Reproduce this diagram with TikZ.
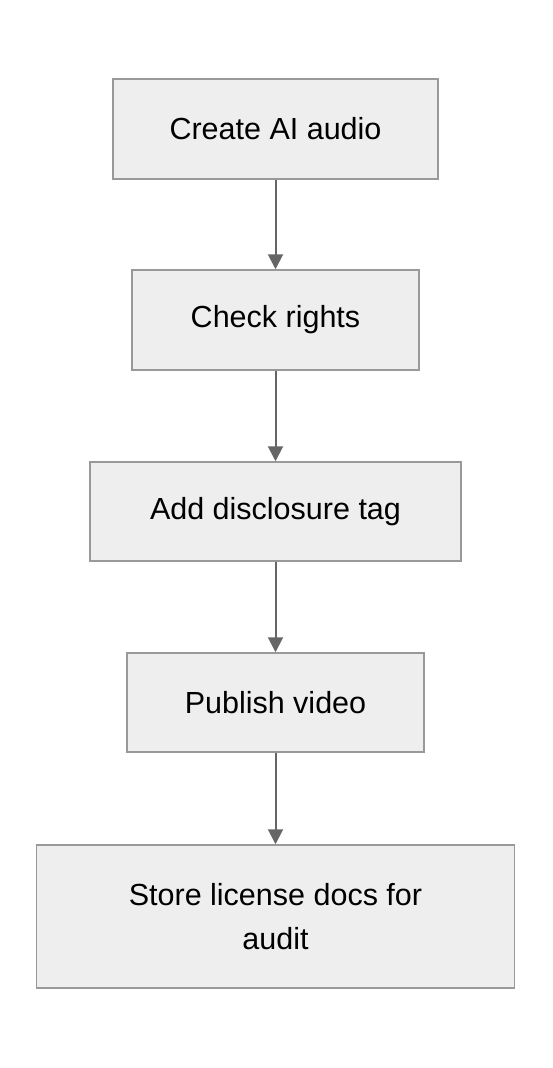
\documentclass[tikz,border=0pt]{standalone}
\usepackage{fontspec}
\setmainfont{Liberation Sans}
\usetikzlibrary{arrows.meta}
\definecolor{boxfill}{HTML}{EEEEEE}
\definecolor{boxline}{HTML}{999999}
\definecolor{arrowc}{HTML}{666666}
\tikzset{
  stepbox/.style={draw=boxline, line width=1.5pt, fill=boxfill, rectangle, inner sep=0pt,
    align=center, font=\fontsize{30.5}{44}\selectfont, text=black},
  flow/.style={draw=arrowc, line width=2pt, -{Triangle[length=15pt,width=15pt]}}
}
\begin{document}
\begin{tikzpicture}[x=1pt,y=-1pt]
\useasboundingbox (0,0) rectangle (552,1068);
\fill[white] (0,0) rectangle (552,1068);
\node[stepbox, minimum width=325pt, minimum height=100pt] (a) at (275.5,129) {Create AI audio};
\node[stepbox, minimum width=287pt, minimum height=100pt] (b) at (275.5,320) {Check rights};
\node[stepbox, minimum width=371pt, minimum height=99pt] (c) at (275.5,511.5) {Add disclosure tag};
\node[stepbox, minimum width=297pt, minimum height=99pt] (d) at (275.5,702.5) {Publish video};
\node[stepbox, minimum width=478pt, minimum height=143pt] (e) at (275.5,916.5) {Store license docs for\\audit};
\draw[flow] (a.south) -- (b.north);
\draw[flow] (b.south) -- (c.north);
\draw[flow] (c.south) -- (d.north);
\draw[flow] (d.south) -- (e.north);
\end{tikzpicture}
\end{document}
